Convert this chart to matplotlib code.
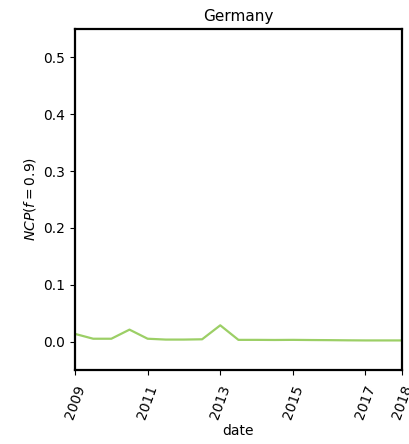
import numpy as np
import matplotlib
matplotlib.use('Agg')
import matplotlib.pyplot as plt

# Datos (semestrales)
years = [2009.0, 2009.5, 2010.0, 2010.5, 2011.0, 2011.5, 2012.0, 2012.5,
         2013.0, 2013.5, 2014.0, 2014.5, 2015.0, 2015.5, 2016.0, 2016.5,
         2017.0, 2017.5, 2018.0]
ncp = [0.0135, 0.005, 0.005, 0.021, 0.005, 0.0035, 0.0035, 0.004,
       0.0286, 0.003, 0.003, 0.0028, 0.003, 0.0027, 0.0025, 0.0022,
       0.002, 0.002, 0.002]
xticks = [2009, 2011, 2013, 2015, 2017, 2018]

fig = plt.figure(figsize=(4.1, 4.44), dpi=100)
ax = fig.add_axes([0.183, 0.1667, 0.797, 0.768])

ax.plot(years, ncp, color='#9ccf66', linewidth=1.6)
ax.set_title('Germany', fontsize=11)
ax.set_xlabel('date', fontsize=10, labelpad=2)
ax.set_ylabel(r'$NCP(f=0.9)$', fontsize=10)
ax.set_xlim(2009, 2018)
ax.set_ylim(-0.05, 0.55)
ax.set_xticks(xticks)
ax.set_xticklabels([str(x) for x in xticks], rotation=70)
ax.tick_params(axis='x', pad=6)
ax.set_yticks([0.0, 0.1, 0.2, 0.3, 0.4, 0.5])
for s in ax.spines.values():
    s.set_linewidth(1.6)

fig.savefig('out.png', dpi=100)
